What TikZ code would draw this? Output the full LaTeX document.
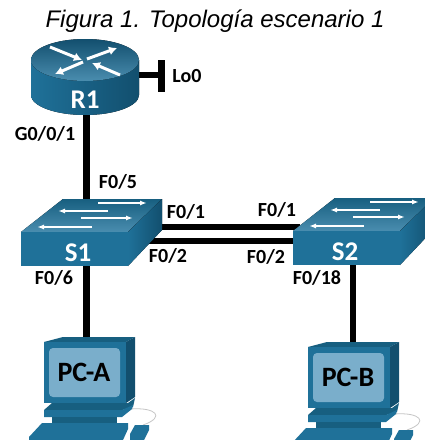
\documentclass[tikz,border=0pt]{standalone}
\usepackage{fontspec}
\setmainfont{Carlito}
\newfontfamily\titlefont{Liberation Sans}
\definecolor{ciscoA}{HTML}{1F7199}
\definecolor{ciscoB}{HTML}{175F80}
\definecolor{ciscoD}{HTML}{124F6E}
\definecolor{ciscoL}{HTML}{4A8DAF}
\definecolor{screenC}{HTML}{7AAECB}
\usetikzlibrary{arrows.meta,calc}
\tikzset{
  x=1pt,y=-1pt,
  lnk/.style={draw=black,line width=6.5pt},
  portlbl/.style={font=\bfseries\fontsize{20}{20}\selectfont,text=black,inner sep=0pt},
  devlbl/.style={font=\bfseries\fontsize{27}{27}\selectfont,text=white,inner sep=0pt},
  pclbl/.style={font=\bfseries\fontsize{28}{28}\selectfont,text=black,inner sep=0pt},
  whitearrow/.style={draw=white,line width=1.8pt,-{Latex[length=7pt,width=5pt]}},
  routerarrow/.style={draw=white,line width=3pt,-{Latex[length=8pt,width=9pt]}},
}
\newcommand{\swdraw}[4]{% x y label labelx
 \begin{scope}[shift={(#1,#2)}]
  \fill[top color=ciscoB,bottom color=ciscoL] (0,33) -- (42,0) -- (141,0) -- (107,33) -- cycle;
  \fill[ciscoA] (0,33) rectangle (107,67);
  \fill[left color=ciscoA,right color=ciscoD] (107,33) -- (141,0) -- (141,31) -- (107,67) -- cycle;
  \draw[whitearrow] (77,4) -- (126,4);
  \draw[whitearrow] (87,12) -- (37,12);
  \draw[whitearrow] (60,19) -- (112,19);
  \draw[whitearrow] (71,28) -- (16,28);
  \node[devlbl] at (#4,54) {#3};
 \end{scope}}
\newcommand{\pcdraw}[3]{%
 \begin{scope}[shift={(#1,#2)}]
  \draw[gray!45,line width=.8pt] (86,72) .. controls (112,70) and (122,80) .. (99,88);
  \fill[ciscoB] (0,5) -- (19,0) -- (91,0) -- (82,5) -- cycle;
  \fill[ciscoA] (0,5) rectangle (82,66);
  \fill[ciscoD] (82,5) -- (91,0) -- (91,60) -- (82,66) -- cycle;
  \fill[screenC,rounded corners=4pt] (5,11) rectangle (76,60);
  \fill[ciscoB] (8,66) -- (84,66) -- (91,61) -- (89,70) -- (78,73) -- (0,73) -- cycle;
  \fill[ciscoA] (0,73) -- (78,73) -- (89,68) -- (88,72) -- (78,80) -- (0,80) -- cycle;
  \fill[ciscoB] (8,80) rectangle (73,86);
  \fill[ciscoA] (-2,86) -- (84,86) -- (84,92) -- (79,103) -- (-15,103) -- (-15,100) -- cycle;
  \fill[ciscoA] (91,88) -- (105,88) -- (105,93) -- (100,103) -- (86,103) -- (86,97) -- cycle;
  \node[pclbl] at (40,35) {#3};
 \end{scope}}
\begin{document}
\begin{tikzpicture}
\useasboundingbox (0,0) rectangle (425,440);
\fill[white] (0,0) rectangle (425,440);
\coordinate (r1bot) at (86.5,115);
\coordinate (r1right) at (139,75);
\coordinate (lo) at (161.5,75);
\coordinate (loT) at (161.5,60);
\coordinate (loB) at (161.5,92);
\coordinate (s1top) at (86.5,205);
\coordinate (s1bot) at (86.5,266);
\coordinate (pcAtop) at (86.5,340);
\coordinate (s2bot) at (353,265);
\coordinate (pcBtop) at (353,345);
\coordinate (s1p1) at (160,227);
\coordinate (s2p1) at (300,227);
\coordinate (s1p2) at (145,241);
\coordinate (s2p2) at (295,241);
\draw[lnk] (r1bot) -- (s1top);
\draw[lnk] (s1bot) -- (pcAtop);
\draw[lnk] (s2bot) -- (pcBtop);
\draw[lnk] (s1p1) -- (s2p1);
\draw[lnk] (s1p2) -- (s2p2);
\draw[lnk] (r1right) -- (lo);
\draw[lnk] (loT) -- (loB);
% router
\fill[left color=ciscoA,middle color=ciscoA!85!white,right color=ciscoD] (31,60) -- (31,95) arc[start angle=180,end angle=360,x radius=54,y radius=-20] -- (139,60) -- cycle;
\fill[top color=ciscoD,bottom color=ciscoL] (85,60) ellipse[x radius=54,y radius=21];
\draw[routerarrow] (50,47) -- (82,60);
\draw[routerarrow] (87,59) -- (117,48);
\draw[routerarrow] (83,62) -- (55,74);
\draw[routerarrow] (120,75) -- (92,63);
\node[inner sep=0pt,font=\bfseries\fontsize{27}{27}\selectfont,text=white] (R1) at (85,100) {R1};
\swdraw{21}{199}{S1}{57}
\swdraw{293}{198}{S2}{52}
\pcdraw{44}{337}{PC-A}
\pcdraw{308}{342}{PC-B}
\node[anchor=base,inner sep=0pt,font=\titlefont\itshape\fontsize{24}{24}\selectfont] (title) at (215,27) {Figura 1. Topología escenario 1};
\node[portlbl] (lo0) at (187,76) {Lo0};
\node[portlbl] (g) at (45,134) {G0/0/1};
\node[portlbl] (f5) at (118,182) {F0/5};
\node[portlbl] (f1a) at (186,212) {F0/1};
\node[portlbl] (f2a) at (168,256) {F0/2};
\node[portlbl] (f6) at (54,278) {F0/6};
\node[portlbl] (f1b) at (277,210) {F0/1};
\node[portlbl] (f2b) at (266,257) {F0/2};
\node[portlbl] (f18) at (317,278) {F0/18};
\end{tikzpicture}
\end{document}
